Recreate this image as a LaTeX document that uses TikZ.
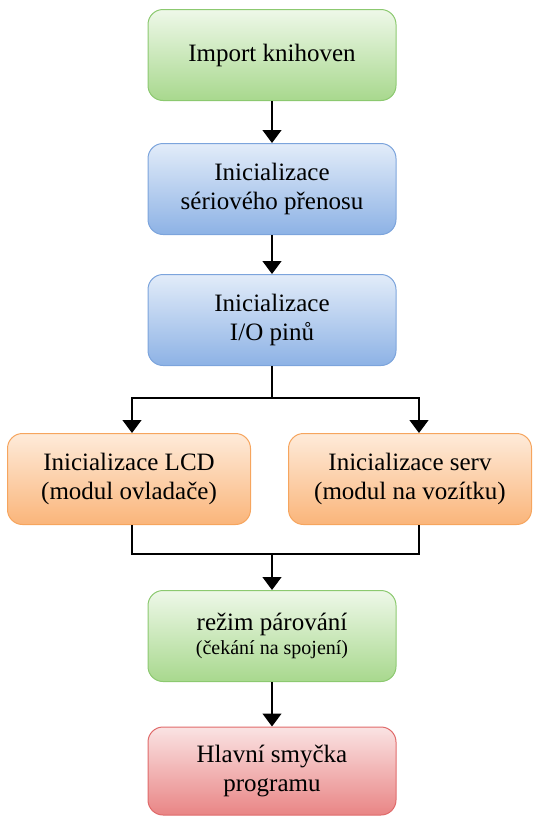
\documentclass[tikz,border=0pt]{standalone}
\usepackage{fontspec}
\setmainfont{Liberation Serif}
\usetikzlibrary{arrows.meta}

\definecolor{grtop}{HTML}{EEF8E8}
\definecolor{grbot}{HTML}{A8D88E}
\definecolor{grline}{HTML}{8CC970}
\definecolor{bltop}{HTML}{E2ECF9}
\definecolor{blbot}{HTML}{8DB2E5}
\definecolor{blline}{HTML}{7CA4DC}
\definecolor{ortop}{HTML}{FEEBDA}
\definecolor{orbot}{HTML}{FAB57A}
\definecolor{orline}{HTML}{F6A55E}
\definecolor{rdtop}{HTML}{FAE3E3}
\definecolor{rdbot}{HTML}{E98585}
\definecolor{rdline}{HTML}{E06A6A}

\begin{document}
\begin{tikzpicture}[x=1pt, y=-1pt,
  box/.style={draw, rounded corners=15pt, line width=1pt, minimum width=248pt, minimum height=91pt, align=center, font=\fontsize{25}{29}\selectfont},
  greenbox/.style={box, draw=grline, top color=grtop, bottom color=grbot},
  bluebox/.style={box, draw=blline, top color=bltop, bottom color=blbot},
  orangebox/.style={box, draw=orline, top color=ortop, bottom color=orbot, minimum width=243pt},
  redbox/.style={box, draw=rdline, top color=rdtop, bottom color=rdbot, minimum height=88pt},
  flow/.style={-{Triangle[length=13pt,width=19pt]}, line width=1.2pt},
  link/.style={line width=1.2pt}]
\useasboundingbox (0,0) rectangle (536,817);

\node (import) [greenbox] at (272,55) {Import knihoven};
\node (serial) [bluebox] at (272,189) {Inicializace\\ sériového přenosu};
\node (pins) [bluebox] at (272,320) {Inicializace\\ I/O pinů};
\node (lcd) [orangebox] at (129,479) {Inicializace LCD\\ (modul ovladače)};
\node (serv) [orangebox] at (410,479) {Inicializace serv\\ (modul na vozítku)};
\node (pair) [greenbox] at (272,636) {režim párování\\[-5pt] {\fontsize{20}{23}\selectfont (čekání na spojení)}};
\node (loop) [redbox] at (272,771) {Hlavní smyčka\\ programu};

\coordinate (split) at (272,398);
\coordinate (splitl) at (132,398);
\coordinate (splitr) at (419,398);
\coordinate (lcdout) at (132,524);
\coordinate (servout) at (419,524);
\coordinate (joinl) at (132,554);
\coordinate (joinr) at (419,554);
\coordinate (join) at (272,554);

\draw [flow] (import) -- (serial);
\draw [flow] (serial) -- (pins);
\draw [link] (pins) -- (split);
\draw [flow] (split) -- (splitl) -- (lcd.north -| splitl);
\draw [flow] (split) -- (splitr) -- (serv.north -| splitr);
\draw [link] (lcd.south -| lcdout) -- (joinl) -- (joinr) -- (serv.south -| servout);
\draw [flow] (join) -- (pair);
\draw [flow] (pair) -- (loop);
\end{tikzpicture}
\end{document}
